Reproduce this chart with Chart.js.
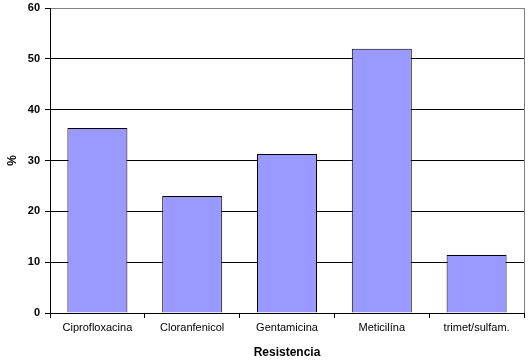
<!DOCTYPE html>
<html><head><meta charset="utf-8">
<script src="https://cdn.jsdelivr.net/npm/chart.js@4/dist/chart.umd.min.js"></script>
<style>html,body{margin:0;padding:0;background:#fff}#w{width:530px;height:360px}</style>
</head><body><div id="w"><canvas id="c" width="530" height="360"></canvas></div>
<script>
const categories = ["Ciprofloxacina", "Cloranfenicol", "Gentamicina", "Meticilína", "trimet/sulfam."];
const values = [36.4, 23.0, 31.3, 52.0, 11.4];
const yTicks = [0, 10, 20, 30, 40, 50, 60];
const xTitle = "Resistencia";
const yTitle = "%";

const rightBorder = {
  id: 'rightBorder',
  afterDraw(chart) {
    const a = chart.chartArea, ctx = chart.ctx;
    ctx.save();
    ctx.strokeStyle = '#808080';
    ctx.lineWidth = 1;
    ctx.beginPath();
    ctx.moveTo(Math.round(a.right) + 0.5, a.top);
    ctx.lineTo(Math.round(a.right) + 0.5, a.bottom);
    ctx.stroke();
    ctx.restore();
  }
};

new Chart(document.getElementById('c'), {
  type: 'bar',
  data: {
    labels: categories,
    datasets: [{
      data: values,
      backgroundColor: '#9999FF',
      borderColor: '#000000',
      borderWidth: 1,
      borderSkipped: 'bottom',
      categoryPercentage: 1.0,
      barPercentage: 0.633
    }]
  },
  options: {
    responsive: false,
    animation: false,
    layout: { padding: { top: 8, right: 6, left: 0, bottom: 0 } },
    plugins: { legend: { display: false }, tooltip: { enabled: false } },
    scales: {
      x: {
        afterFit(s) { s.height = 47; s.paddingRight = 0; s.paddingLeft = 0; },
        grid: { display: true, drawOnChartArea: false, drawTicks: true, tickLength: 5, color: '#000', offset: true },
        border: { color: '#000', width: 1 },
        ticks: { color: '#000', font: { family: 'Liberation Sans, Arial', size: 11 }, padding: 3, maxRotation: 0, autoSkip: false },
        title: { display: true, text: xTitle, color: '#000', font: { family: 'Liberation Sans, Arial', size: 12, weight: 'bold' }, padding: { top: 0, bottom: 0 } }
      },
      y: {
        min: 0, max: 60,
        afterFit(s) { s.width = 50; s.paddingTop = 0; s.paddingBottom = 0; },
        afterBuildTicks(s) { s.ticks = yTicks.map(v => ({ value: v })); },
        grid: {
          color: c => (c.tick && c.tick.value === 60) ? '#808080' : '#000',
          tickColor: '#000', tickLength: 5, lineWidth: 1
        },
        border: { color: '#000', width: 1 },
        ticks: { stepSize: 10, color: '#000', font: { family: 'Liberation Sans, Arial', size: 11, weight: 'bold' }, padding: 5 },
        title: { display: true, text: yTitle, color: '#000', font: { family: 'Liberation Sans, Arial', size: 12, weight: 'bold' }, padding: { top: 5, bottom: 0 } }
      }
    }
  },
  plugins: [rightBorder]
});
</script>
</body></html>
